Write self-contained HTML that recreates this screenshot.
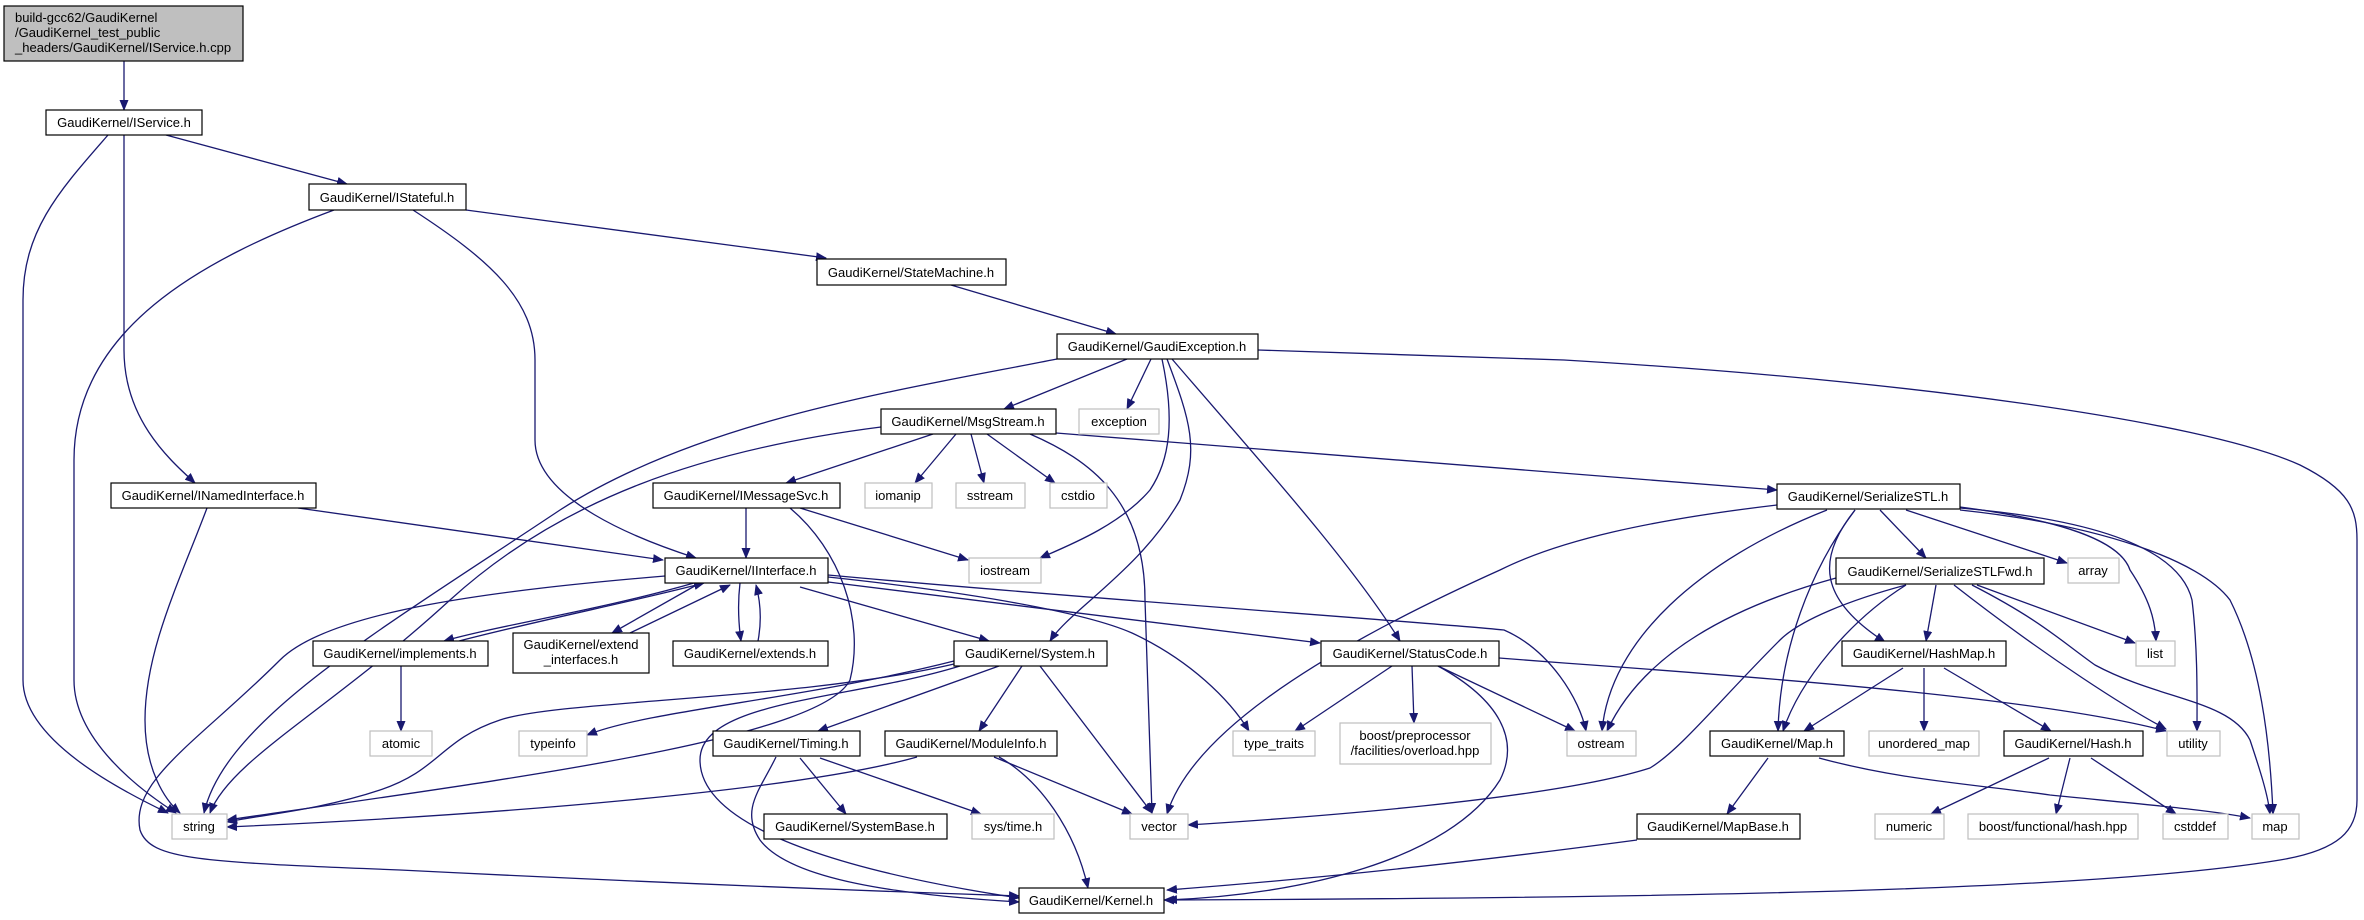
<!DOCTYPE html>
<html><head><meta charset="utf-8"><style>
html,body{margin:0;padding:0;background:#fff;}
svg{display:block;}
text{font-family:"Liberation Sans",Arial,sans-serif;font-size:13px;fill:#000;}
.e{fill:none;stroke:#191970;stroke-width:1.3;}
.n{fill:#fff;stroke:#000;stroke-width:1.2;}
.g{fill:#fff;stroke:#bfbfbf;stroke-width:1.2;}
</style></head><body>
<svg width="2364" height="920" viewBox="0 0 2364 920" xmlns="http://www.w3.org/2000/svg">
<defs><marker id="a" markerWidth="11" markerHeight="9" refX="10" refY="4.5" orient="auto" markerUnits="userSpaceOnUse"><path d="M0,0 L11,4.5 L0,9 Z" fill="#191970"/></marker></defs>
<g class="e" marker-end="url(#a)">
<path d="M124,61 L124,110"/>
<path d="M166,135 L347,184"/>
<path d="M108,135 C60,190 23,230 23,300 L23,680 C23,740 120,790 168,813"/>
<path d="M124,135 L124,350 C124,420 170,460 195,483"/>
<path d="M334,210 C200,260 74,330 74,460 L74,680 C74,740 140,790 176,813"/>
<path d="M413,210 C490,260 535,300 535,360 L535,440 C535,500 640,540 696,558"/>
<path d="M466,210 L826,258"/>
<path d="M951,285 L1116,334"/>
<path d="M1057,359 C900,390 700,420 560,510 C380,630 225,720 204,813"/>
<path d="M1127,359 L1004,409"/>
<path d="M1151,359 L1127,409"/>
<path d="M1162,359 C1175,420 1170,460 1150,490 C1120,525 1070,545 1040,558"/>
<path d="M1167,359 C1190,420 1200,450 1180,500 C1140,570 1070,610 1050,641"/>
<path d="M1172,359 C1250,450 1350,560 1400,641"/>
<path d="M1258,350 L1564,360 C1900,380 2200,420 2300,465 C2350,490 2357,510 2357,540 L2357,800 C2357,830 2340,850 2280,860 C2100,890 1700,898 1164,900"/>
<path d="M881,427 C700,450 560,500 450,600 C330,710 230,760 210,813"/>
<path d="M933,434 L786,483"/>
<path d="M956,434 L915,483"/>
<path d="M971,434 L984,483"/>
<path d="M987,434 L1055,483"/>
<path d="M1030,434 C1090,460 1145,500 1145,600 L1152,813"/>
<path d="M1056,433 L1777,490"/>
<path d="M298,508 L663,560"/>
<path d="M207,508 C180,580 145,650 145,720 C145,770 165,800 180,813"/>
<path d="M746,508 L746,558"/>
<path d="M800,508 L968,560"/>
<path d="M790,508 C840,550 865,620 850,680 C820,740 500,780 227,820"/>
<path d="M665,576 C500,590 330,610 280,660 C200,740 130,780 140,830 C150,860 200,862 400,870 C700,885 900,892 1019,896"/>
<path d="M694,583 C600,610 500,625 444,641"/>
<path d="M459,641 C540,620 640,600 704,583"/>
<path d="M700,583 L612,633"/>
<path d="M630,633 L730,585"/>
<path d="M740,583 C738,600 738,620 741,641"/>
<path d="M758,641 C762,620 760,600 756,585"/>
<path d="M800,587 L989,641"/>
<path d="M828,582 L1320,643"/>
<path d="M828,577 C950,590 1080,610 1132,633 C1190,660 1230,700 1249,731"/>
<path d="M828,575 C1100,600 1400,620 1504,630 C1550,650 1580,700 1586,731"/>
<path d="M954,661 C800,700 650,710 587,735"/>
<path d="M954,664 C800,700 560,700 500,720 C440,740 440,770 380,790 C320,810 260,815 227,822"/>
<path d="M999,666 L818,731"/>
<path d="M1022,666 L979,731"/>
<path d="M1040,666 L1152,813"/>
<path d="M960,666 C850,700 700,700 700,760 C700,840 900,880 1019,898"/>
<path d="M800,758 L846,814"/>
<path d="M820,758 L981,814"/>
<path d="M776,757 C760,790 740,810 760,840 C790,880 900,895 1019,902"/>
<path d="M917,757 C800,790 500,815 227,827"/>
<path d="M994,757 L1132,814"/>
<path d="M999,757 C1040,780 1075,830 1088,888"/>
<path d="M1392,666 L1295,731"/>
<path d="M1412,666 L1414,723"/>
<path d="M1438,666 L1575,731"/>
<path d="M1438,666 C1500,700 1520,740 1500,780 C1450,860 1300,895 1167,900"/>
<path d="M1499,658 L1564,663 C1800,680 2050,700 2166,731"/>
<path d="M1777,505 C1650,520 1560,540 1500,570 C1300,660 1190,740 1167,814"/>
<path d="M1827,510 C1700,560 1610,640 1602,731"/>
<path d="M1855,510 C1810,570 1780,650 1778,731"/>
<path d="M1855,510 C1815,560 1820,600 1885,642"/>
<path d="M1880,510 L1926,558"/>
<path d="M1906,510 L2067,563"/>
<path d="M1960,507 C2060,520 2120,540 2130,570 C2150,600 2155,620 2156,641"/>
<path d="M1960,508 C2100,520 2180,550 2192,600 C2198,650 2197,700 2197,731"/>
<path d="M1960,510 C2100,525 2200,560 2230,600 C2260,660 2270,740 2273,814"/>
<path d="M1836,578 C1720,610 1640,660 1607,731"/>
<path d="M1906,585 C1850,600 1800,620 1780,640 C1720,700 1680,750 1650,768 C1550,800 1300,818 1188,825"/>
<path d="M1906,585 C1850,620 1800,680 1783,731"/>
<path d="M1936,585 L1926,641"/>
<path d="M1977,585 L2135,643"/>
<path d="M1954,585 C2050,660 2130,710 2166,729"/>
<path d="M1972,585 C2040,620 2060,640 2095,665 C2160,700 2230,700 2250,740 C2260,770 2268,795 2270,814"/>
<path d="M1903,668 L1804,731"/>
<path d="M1924,668 L1924,731"/>
<path d="M1944,668 L2051,731"/>
<path d="M1768,758 L1727,814"/>
<path d="M1819,758 C1900,780 1972,784 2050,795 C2150,805 2210,810 2250,818"/>
<path d="M1637,840 C1450,865 1300,880 1167,890"/>
<path d="M2049,758 L1931,814"/>
<path d="M2070,758 L2056,814"/>
<path d="M2091,758 L2176,814"/>
<path d="M401,666 L401,731"/>
</g>
<g>
<rect x="4" y="6" width="239" height="55" fill="#bfbfbf" stroke="#000" stroke-width="1.2"/>
<text x="15" y="22">build-gcc62/GaudiKernel</text>
<text x="15" y="37">/GaudiKernel_test_public</text>
<text x="15" y="52">_headers/GaudiKernel/IService.h.cpp</text>
</g>
<g text-anchor="middle">
<rect class="n" x="46" y="110" width="156" height="25"/><text x="124" y="127">GaudiKernel/IService.h</text>
<rect class="n" x="309" y="184" width="157" height="26"/><text x="387" y="202">GaudiKernel/IStateful.h</text>
<rect class="n" x="817" y="259" width="189" height="26"/><text x="911" y="277">GaudiKernel/StateMachine.h</text>
<rect class="n" x="1057" y="334" width="201" height="25"/><text x="1157" y="351">GaudiKernel/GaudiException.h</text>
<rect class="n" x="881" y="409" width="175" height="25"/><text x="968" y="426">GaudiKernel/MsgStream.h</text>
<rect class="g" x="1079" y="409" width="80" height="25"/><text x="1119" y="426">exception</text>
<rect class="n" x="111" y="483" width="205" height="25"/><text x="213" y="500">GaudiKernel/INamedInterface.h</text>
<rect class="n" x="653" y="483" width="187" height="25"/><text x="746" y="500">GaudiKernel/IMessageSvc.h</text>
<rect class="g" x="865" y="483" width="67" height="25"/><text x="898" y="500">iomanip</text>
<rect class="g" x="956" y="483" width="69" height="25"/><text x="990" y="500">sstream</text>
<rect class="g" x="1050" y="483" width="57" height="25"/><text x="1078" y="500">cstdio</text>
<rect class="n" x="1777" y="484" width="183" height="25"/><text x="1868" y="501">GaudiKernel/SerializeSTL.h</text>
<rect class="n" x="665" y="558" width="163" height="25"/><text x="746" y="575">GaudiKernel/IInterface.h</text>
<rect class="g" x="969" y="558" width="72" height="25"/><text x="1005" y="575">iostream</text>
<rect class="n" x="1836" y="558" width="208" height="26"/><text x="1940" y="576">GaudiKernel/SerializeSTLFwd.h</text>
<rect class="g" x="2068" y="558" width="51" height="25"/><text x="2093" y="575">array</text>
<rect class="n" x="313" y="641" width="175" height="25"/><text x="400" y="658">GaudiKernel/implements.h</text>
<rect class="n" x="513" y="633" width="136" height="40"/><text x="581" y="649">GaudiKernel/extend</text><text x="581" y="664">_interfaces.h</text>
<rect class="n" x="673" y="641" width="155" height="25"/><text x="750" y="658">GaudiKernel/extends.h</text>
<rect class="n" x="954" y="641" width="153" height="25"/><text x="1030" y="658">GaudiKernel/System.h</text>
<rect class="n" x="1321" y="641" width="178" height="25"/><text x="1410" y="658">GaudiKernel/StatusCode.h</text>
<rect class="n" x="1842" y="641" width="164" height="25"/><text x="1924" y="658">GaudiKernel/HashMap.h</text>
<rect class="g" x="2136" y="641" width="39" height="25"/><text x="2155" y="658">list</text>
<rect class="g" x="370" y="731" width="62" height="25"/><text x="401" y="748">atomic</text>
<rect class="g" x="519" y="731" width="68" height="25"/><text x="553" y="748">typeinfo</text>
<rect class="n" x="713" y="731" width="147" height="25"/><text x="786" y="748">GaudiKernel/Timing.h</text>
<rect class="n" x="885" y="731" width="172" height="25"/><text x="971" y="748">GaudiKernel/ModuleInfo.h</text>
<rect class="g" x="1233" y="731" width="82" height="25"/><text x="1274" y="748">type_traits</text>
<rect class="g" x="1340" y="723" width="151" height="41"/><text x="1415" y="740">boost/preprocessor</text><text x="1415" y="755">/facilities/overload.hpp</text>
<rect class="g" x="1567" y="731" width="69" height="25"/><text x="1601" y="748">ostream</text>
<rect class="n" x="1710" y="731" width="134" height="25"/><text x="1777" y="748">GaudiKernel/Map.h</text>
<rect class="g" x="1869" y="731" width="110" height="25"/><text x="1924" y="748">unordered_map</text>
<rect class="n" x="2004" y="731" width="139" height="25"/><text x="2073" y="748">GaudiKernel/Hash.h</text>
<rect class="g" x="2167" y="731" width="53" height="25"/><text x="2193" y="748">utility</text>
<rect class="g" x="172" y="814" width="55" height="25"/><text x="199" y="831">string</text>
<rect class="n" x="764" y="814" width="183" height="25"/><text x="855" y="831">GaudiKernel/SystemBase.h</text>
<rect class="g" x="972" y="814" width="82" height="25"/><text x="1013" y="831">sys/time.h</text>
<rect class="g" x="1130" y="814" width="58" height="25"/><text x="1159" y="831">vector</text>
<rect class="n" x="1637" y="814" width="163" height="25"/><text x="1718" y="831">GaudiKernel/MapBase.h</text>
<rect class="g" x="1875" y="814" width="69" height="25"/><text x="1909" y="831">numeric</text>
<rect class="g" x="1968" y="814" width="170" height="25"/><text x="2053" y="831">boost/functional/hash.hpp</text>
<rect class="g" x="2163" y="814" width="65" height="25"/><text x="2195" y="831">cstddef</text>
<rect class="g" x="2252" y="814" width="47" height="25"/><text x="2275" y="831">map</text>
<rect class="n" x="1019" y="888" width="145" height="25"/><text x="1091" y="905">GaudiKernel/Kernel.h</text>
</g>
</svg>
</body></html>
